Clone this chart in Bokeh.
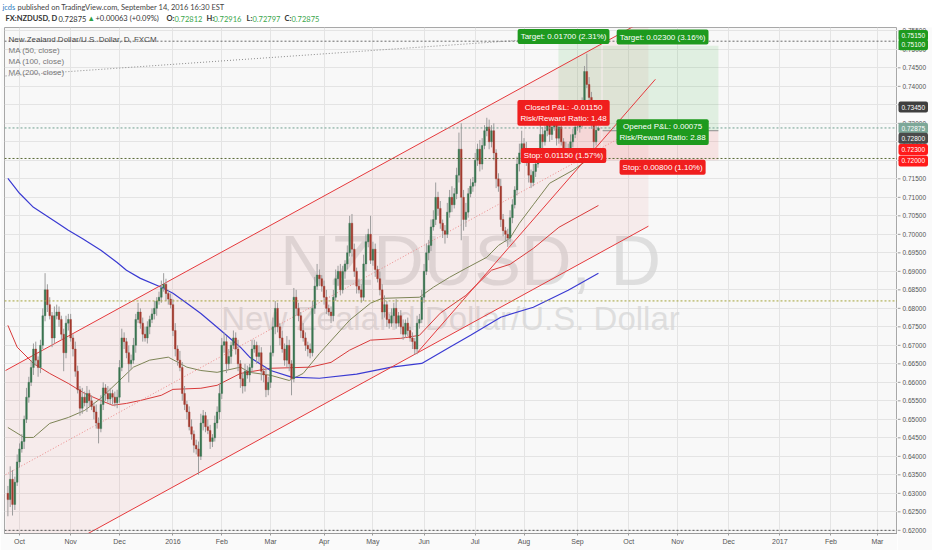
import numpy as np
import pandas as pd
from bokeh.plotting import figure
from bokeh.layouts import column, row
from bokeh.models import (Range1d, FixedTicker, SingleIntervalTicker, Grid,
                          Label, ColumnDataSource, Span)
from bokeh.core.properties import value
from bokeh.embed import file_html
from bokeh.resources import INLINE

# ---------------- data ----------------
FIRST_DAY = "2015-09-24"
AXIS_END_DAY = "2017-03-31"
FIRST_OPEN = 0.6300
LAST_OPEN = 0.72812

CLOSE = [
    0.6283, 0.6338, 0.6270, 0.6330, 0.6385,
    0.6420, 0.6440, 0.6500, 0.6560, 0.6600, 0.6640, 0.6690, 0.6660, 0.6640, 0.6700, 0.6780,
    0.6850, 0.6810, 0.6780, 0.6720, 0.6780, 0.6790, 0.6770, 0.6730, 0.6680, 0.6760, 0.6770,
    0.6720, 0.6690, 0.6630, 0.6580, 0.6530, 0.6560, 0.6545, 0.6570, 0.6550, 0.6535, 0.6520,
    0.6490, 0.6475, 0.6540, 0.6585, 0.6570, 0.6555, 0.6570, 0.6560, 0.6545, 0.6560,
    0.6640, 0.6720, 0.6710, 0.6680, 0.6650, 0.6660, 0.6700, 0.6770, 0.6790, 0.6760, 0.6730,
    0.6720, 0.6750, 0.6770, 0.6785, 0.6800, 0.6820, 0.6830, 0.6855, 0.6865, 0.6840, 0.6825, 0.6810,
    0.6740, 0.6690, 0.6660, 0.6640, 0.6570, 0.6540, 0.6520, 0.6480, 0.6460, 0.6430, 0.6420,
    0.6400, 0.6490, 0.6510, 0.6480, 0.6470, 0.6440, 0.6450, 0.6490, 0.6520, 0.6570,
    0.6700, 0.6710, 0.6650, 0.6670, 0.6700, 0.6720, 0.6690, 0.6650, 0.6610, 0.6590, 0.6630,
    0.6620, 0.6640, 0.6690, 0.6700, 0.6670, 0.6680, 0.6630, 0.6620, 0.6580, 0.6600,
    0.6680, 0.6750, 0.6800, 0.6750, 0.6720, 0.6690, 0.6660, 0.6700, 0.6650, 0.6610, 0.6830,
    0.6800, 0.6780, 0.6740, 0.6720, 0.6700, 0.6690, 0.6680, 0.6800, 0.6860, 0.6890, 0.6880, 0.6860,
    0.6830, 0.6800, 0.6790, 0.6780, 0.6830, 0.6880, 0.6900, 0.6850, 0.6900, 0.6920, 0.6950,
    0.7030, 0.6960, 0.6900, 0.6860, 0.6850, 0.6830, 0.6920, 0.6980, 0.7000, 0.6930,
    0.6960, 0.6905, 0.6880, 0.6850, 0.6790, 0.6810, 0.6770, 0.6760, 0.6780, 0.6800, 0.6760,
    0.6780, 0.6750, 0.6730, 0.6760, 0.6740, 0.6720, 0.6710, 0.6690, 0.6760, 0.6770, 0.6830,
    0.6900, 0.6950, 0.6970, 0.7020, 0.7040, 0.7100, 0.7070, 0.7030, 0.7010, 0.7000, 0.7060,
    0.7100, 0.7080, 0.7110, 0.7160, 0.7230, 0.7100, 0.7040, 0.7060, 0.7110, 0.7130, 0.7140,
    0.7200, 0.7230, 0.7190, 0.7240, 0.7280, 0.7290, 0.7250, 0.7280, 0.7220, 0.7150, 0.7130,
    0.7040, 0.7010, 0.7000, 0.6990, 0.7045, 0.7080, 0.7120, 0.7190, 0.7220, 0.7245,
    0.7230, 0.7200, 0.7160, 0.7140, 0.7170, 0.7190, 0.7210, 0.7270, 0.7250, 0.7280, 0.7300,
    0.7270, 0.7290, 0.7310, 0.7260, 0.7290, 0.7250, 0.7220, 0.7230, 0.7210, 0.7250, 0.7270, 0.7290,
    0.7290, 0.7300, 0.7345, 0.7440, 0.7405, 0.7370, 0.7300, 0.7250, 0.7281, 0.72875,
]
WICK_UP_PIPS = [
    20, 35, 25, 15, 20,
    15, 20, 10, 25, 15, 20, 15, 20, 10, 15, 20, 45, 15, 20, 10, 25, 20, 15, 10, 15, 20, 15,
    15, 10, 20, 15, 10, 25, 15, 20, 10, 15, 10, 20, 15, 25, 15, 10, 20, 15, 10, 15, 20,
    20, 25, 15, 10, 20, 15, 20, 15, 25, 10, 15, 20, 15, 10, 15, 20, 10, 15, 20, 30, 15, 10, 15,
    15, 20, 10, 25, 15, 20, 10, 15, 20, 10, 15, 20, 25, 15, 10, 20, 15, 10, 20, 15, 25,
    20, 25, 15, 20, 10, 20, 15, 25, 10, 15, 20, 15, 10, 25, 15, 10, 20, 15, 10, 20, 15,
    20, 25, 20, 15, 10, 20, 15, 25, 15, 10, 25, 20, 15, 10, 20, 15, 10, 15, 20, 25, 30, 15, 10,
    15, 20, 10, 15, 20, 25, 15, 20, 15, 10, 20, 20, 25, 15, 10, 20, 15, 25, 20, 15, 50,
    20, 15, 10, 20, 15, 25, 10, 15, 20, 15, 25, 10, 15, 20, 10, 15, 10, 15, 10, 20, 15, 20,
    20, 25, 15, 20, 25, 40, 15, 20, 10, 15, 25, 20, 30, 15, 20, 45, 70, 20, 25, 15, 20, 15,
    20, 15, 25, 20, 15, 25, 20, 15, 20, 10, 15, 20, 15, 10, 15, 20, 15, 10, 20, 25, 35,
    15, 20, 10, 15, 20, 10, 15, 35, 20, 15, 25, 30, 15, 20, 35, 20, 15, 10, 20, 15, 20, 15, 20,
    15, 20, 25, 15, 48, 20, 15, 20, 15, 4,
]
WICK_DN_PIPS = [
    45, 20, 30, 15, 10,
    15, 10, 20, 10, 15, 10, 20, 15, 25, 15, 10, 15, 20, 10, 25, 15, 10, 20, 15, 50, 15, 20,
    10, 20, 15, 10, 20, 15, 10, 25, 15, 10, 20, 15, 40, 10, 15, 20, 10, 15, 20, 10, 15,
    15, 10, 20, 15, 50, 15, 10, 20, 10, 15, 20, 10, 15, 20, 10, 15, 20, 10, 15, 10, 20, 15, 10,
    15, 20, 15, 10, 20, 15, 20, 10, 15, 20, 15, 50, 10, 20, 15, 10, 20, 15, 10, 15, 20,
    15, 20, 25, 15, 20, 10, 15, 20, 25, 20, 15, 10, 20, 15, 10, 20, 15, 25, 20, 20, 15,
    15, 10, 20, 15, 20, 10, 15, 20, 20, 45, 10, 20, 15, 20, 10, 15, 20, 15, 10, 15, 10, 20, 15,
    20, 15, 10, 20, 15, 10, 20, 15, 10, 20, 15, 10, 20, 15, 20, 10, 15, 10, 20, 15, 10,
    15, 20, 10, 15, 20, 15, 20, 15, 10, 20, 15, 10, 20, 15, 10, 15, 10, 20, 15, 14, 15, 10,
    15, 10, 20, 15, 10, 15, 20, 15, 20, 25, 10, 15, 20, 10, 15, 20, 116, 30, 20, 15, 10, 15,
    10, 15, 20, 15, 10, 15, 20, 15, 20, 25, 15, 20, 15, 20, 24, 10, 15, 10, 15, 20, 10,
    20, 15, 20, 15, 10, 15, 10, 15, 20, 10, 15, 20, 15, 10, 20, 15, 10, 15, 20, 15, 10, 15, 10,
    10, 15, 10, 15, 10, 20, 15, 22, 10, 2,
]

TICK_LABELS = ["Oct", "Nov", "Dec", "2016", "Feb", "Mar", "Apr", "May", "Jun", "Jul",
               "Aug", "Sep", "Oct", "Nov", "Dec", "2017", "Feb", "Mar"]
PRICE_TICK_FIRST, PRICE_TICK_LAST, PRICE_TICK_STEP = 0.620, 0.755, 0.005

# moving averages (bar index, price)
MA50_X = [0, 7, 11, 18, 26, 33, 40, 48, 54, 61, 69, 77, 83, 90, 100, 104, 113, 121, 127, 134,
          147, 156, 161, 177, 183, 190, 197, 206, 211, 216, 220, 226, 233, 243, 254]
MA50_Y = [0.6478, 0.6451, 0.6451, 0.6489, 0.6505, 0.6524, 0.6557, 0.6605, 0.6641, 0.6660,
          0.6668, 0.6641, 0.6632, 0.6627, 0.6641, 0.6627, 0.6619, 0.6605, 0.6624, 0.6678,
          0.6768, 0.6814, 0.6827, 0.6830, 0.6857, 0.6884, 0.6908, 0.6938, 0.6970, 0.6990,
          0.7030, 0.7080, 0.7138, 0.7173, 0.7222]
MA100_X = [0, 4, 11, 18, 26, 33, 40, 45, 51, 57, 66, 71, 83, 90, 100, 113, 130, 139, 147, 156,
           169, 177, 186, 197, 208, 216, 226, 237, 254]
MA100_Y = [0.6754, 0.6695, 0.6651, 0.6624, 0.6597, 0.6570, 0.6551, 0.6538, 0.6543, 0.6551,
           0.6565, 0.6581, 0.6584, 0.6592, 0.6624, 0.6638, 0.6641, 0.6654, 0.6687, 0.6714,
           0.6719, 0.6727, 0.6787, 0.6835, 0.6903, 0.6919, 0.6962, 0.7019, 0.7078]
MA200_X = [0, 5, 11, 21, 26, 32, 40, 47, 51, 57, 66, 71, 77, 83, 90, 95, 100, 104, 113, 122,
           134, 150, 165, 178, 190, 199, 212, 226, 241, 254]
MA200_Y = [0.7151, 0.7111, 0.7073, 0.7032, 0.7011, 0.6989, 0.6957, 0.6924, 0.6903, 0.6881,
           0.6857, 0.6841, 0.6814, 0.6786, 0.6749, 0.6722, 0.6695, 0.6668, 0.6632, 0.6614,
           0.6611, 0.6622, 0.6641, 0.6651, 0.6695, 0.6727, 0.6776, 0.6803, 0.6849, 0.6895]

# drawings
CHANNEL_X = [-1.0, 275.5]
CHANNEL_UP = [0.6632, 0.7584]
CHANNEL_LO = [0.6069, 0.7022]
TREND_X = [176.2, 278.5]
TREND_Y = [0.6681, 0.7419]
GRAY_X = [-1.0, 244.0]
GRAY_Y = [0.7428, 0.7535]
HLINE_Y = [0.7522, 0.72875, 0.7205, 0.6820, 0.6200]
HLINE_COLOR = ["#6a6a6a", "#6f9f8f", "#5a6a36", "#a3a33a", "#555555"]

# long position tools: [x start, x end], [entry, stop, target]
POS1_X = [236.8, 255.3]
POS1_LEVELS = [0.7345, 0.7230, 0.7515]
POS2_X = [255.8, 305.6]
POS2_LEVELS = [0.7280, 0.7200, 0.7510]
POS_LABEL_X = [239.0, 281.6]
POS1_TEXT = ["Target: 0.01700 (2.31%)", "Closed P&L: -0.01150\nRisk/Reward Ratio: 1.48",
             "Stop: 0.01150 (1.57%)"]
POS2_TEXT = ["Target: 0.02300 (3.16%)", "Opened P&L: 0.00075\nRisk/Reward Ratio: 2.88",
             "Stop: 0.00800 (1.10%)"]
POS1_TEXT_Y = [0.7535, 0.7328, 0.7213]
POS2_TEXT_Y = [0.7533, 0.7276, 0.7181]
POS1_TEXT_COLOR = ["#1e9a1e", "#f01e1e", "#f01e1e"]
POS2_TEXT_COLOR = ["#1e9a1e", "#1e9a1e", "#f01e1e"]

AXIS_TAGS = ["0.75150", "0.75100", "0.73450", "0.72875", "0.72800", "0.72300", "0.72000"]
AXIS_TAG_Y = [0.75372, 0.75127, 0.73439, 0.72867, 0.72594, 0.72295, 0.71982]
AXIS_TAG_COLOR = ["#1e9a1e", "#1e9a1e", "#3f3f3f", "#7da898", "#4a4a4a", "#ff1a1a", "#ff1a1a"]

# ---------------- layout (page pixels) ----------------
PAGE_W, HEADER_H, MAIN_H = 932, 27, 523
AXIS_W = 35
MAIN_W = PAGE_W - AXIS_W
FRAME_L, BOTTOM = 4, 17
X0, X1 = (FRAME_L - 7.375) / 2.325, (MAIN_W - 7.375) / 2.325
Y1 = 0.7559
Y0 = Y1 - (MAIN_H - BOTTOM) / 3700.0


def sx(px):
    return (px - 7.375) / 2.325


def sy(py):
    return 0.74 - (py - 86) / 3700.0


UP, DOWN, WICK = "#3a7550", "#a23a2e", "#9c9c9c"
FONT = "Liberation Sans"

n = min(len(CLOSE), len(WICK_UP_PIPS), len(WICK_DN_PIPS))
close = np.array(CLOSE[:n], dtype=float)
open_ = np.concatenate([[FIRST_OPEN], close[:-1]])
open_[-1] = LAST_OPEN
top = np.maximum(open_, close)
bot = np.minimum(open_, close)
hi = top + np.array(WICK_UP_PIPS[:n]) * 1e-4
lo = bot - np.array(WICK_DN_PIPS[:n]) * 1e-4
xs = np.arange(n)
colors = np.where(close >= open_, UP, DOWN)
src = ColumnDataSource(dict(x=xs, top=top, bot=bot, hi=hi, lo=lo, color=colors))

days = pd.bdate_range(FIRST_DAY, AXIS_END_DAY)
months = days.to_period("M")
starts = [i for i in range(1, len(days)) if months[i] != months[i - 1]]
ticks = [int(t) for t in starts[:len(TICK_LABELS)]]

yr = Range1d(Y0, Y1)

# ---------------- main pane ----------------
p = figure(width=MAIN_W, height=MAIN_H, x_range=Range1d(X0, X1), y_range=yr,
           y_axis_type=None, toolbar_location=None, output_backend="svg",
           min_border_left=FRAME_L, min_border_right=0, min_border_top=0,
           min_border_bottom=BOTTOM, background_fill_color="#f8f8f8",
           border_fill_color="#fafafa", outline_line_color="#a8a8a8")

p.xaxis.ticker = FixedTicker(ticks=ticks)
p.xaxis.major_label_overrides = {t: lab for t, lab in zip(ticks, TICK_LABELS)}
xa = p.xaxis[0]
xa.major_label_text_font = FONT
xa.major_label_text_font_size = "7px"
xa.major_label_text_color = "#555555"
xa.axis_line_color = "#9a9a9a"
xa.major_tick_line_color = "#9a9a9a"
xa.major_tick_out = 2
xa.major_tick_in = 0
xa.minor_tick_line_color = None
xa.major_label_standoff = 2
p.xgrid.ticker = FixedTicker(ticks=ticks)
p.xgrid.grid_line_color = "#e4e4e4"
p.add_layout(Grid(dimension=1, ticker=SingleIntervalTicker(interval=PRICE_TICK_STEP,
                                                           num_minor_ticks=0),
                  grid_line_color="#e4e4e4"))

# watermark
p.text(x=[sx(470)], y=[sy(261)], text=["NZDUSD, D"], text_font=value(FONT),
       text_font_size=value("70px"), text_color="#d6d6d6", text_alpha=0.75,
       text_align="center", text_baseline="middle")
p.text(x=[sx(450)], y=[sy(318)], text=["New Zealand Dollar/U.S. Dollar"],
       text_font=value(FONT), text_font_size=value("33px"),
       text_color="#d6d6d6", text_alpha=0.75, text_align="center", text_baseline="middle")

# channel
p.patch(x=[CHANNEL_X[0], CHANNEL_X[1], CHANNEL_X[1], CHANNEL_X[0]],
        y=[CHANNEL_UP[0], CHANNEL_UP[1], CHANNEL_LO[1], CHANNEL_LO[0]],
        fill_color="#e05a5a", fill_alpha=0.08, line_alpha=0)

# position boxes
for (xa0, xb0), (entry, stop, target) in ((POS1_X, POS1_LEVELS), (POS2_X, POS2_LEVELS)):
    p.quad(left=[xa0], right=[xb0], bottom=[entry], top=[target],
           fill_color="#3fae49", fill_alpha=0.13, line_alpha=0)
    p.quad(left=[xa0], right=[xb0], bottom=[stop], top=[entry],
           fill_color="#f04a4a", fill_alpha=0.12, line_alpha=0)
p.line(x=POS2_X, y=[POS2_LEVELS[0], POS2_LEVELS[0]], line_color="#8c8c8c", line_width=1)

# moving averages
p.line(x=MA50_X, y=MA50_Y, line_color="#7d8456", line_width=1)
p.line(x=MA100_X, y=MA100_Y, line_color="#d83a3a", line_width=1)
p.line(x=MA200_X, y=MA200_Y, line_color="#3a3ad2", line_width=1.2)

# channel lines + trend line
p.line(x=CHANNEL_X, y=CHANNEL_UP, line_color="#e5393c", line_width=1)
p.line(x=CHANNEL_X, y=CHANNEL_LO, line_color="#e5393c", line_width=1)
p.line(x=CHANNEL_X, y=[(a + b) / 2 for a, b in zip(CHANNEL_UP, CHANNEL_LO)],
       line_color="#ec8a8a", line_width=1, line_dash="1 2")
p.line(x=TREND_X, y=TREND_Y, line_color="#e5393c", line_width=1)
p.line(x=GRAY_X, y=GRAY_Y, line_color="#8a8a8a", line_width=1, line_dash="1 2")

# candles
p.segment(x0="x", y0="hi", x1="x", y1="lo", line_color=WICK, line_width=1, source=src)
p.vbar(x="x", width=0.72, top="top", bottom="bot", fill_color="color", line_color="color",
       line_width=0.4, source=src)

# horizontal dotted lines
for yv, c in zip(HLINE_Y, HLINE_COLOR):
    p.add_layout(Span(location=yv, dimension="width", line_color=c, line_width=1,
                      line_dash="2 2"))


def add_label(fig, x, y, text, color="#444444", size="8px", bold=False, align="left",
              font=FONT, bg=None, pad=0):
    kw = {}
    if bg is not None:
        kw = dict(background_fill_color=bg, border_radius=2, padding=pad)
    fig.add_layout(Label(x=x, y=y, text=text, text_color=color, text_font=font,
                         text_font_size=size, text_font_style="bold" if bold else "normal",
                         text_align=align, text_baseline="middle", **kw))


# position tool labels
for lx, texts, ys, cols in ((POS_LABEL_X[0], POS1_TEXT, POS1_TEXT_Y, POS1_TEXT_COLOR),
                            (POS_LABEL_X[1], POS2_TEXT, POS2_TEXT_Y, POS2_TEXT_COLOR)):
    for t, yv, c in zip(texts, ys, cols):
        add_label(p, lx, yv, t, color="#ffffff", size="8px", align="center", bg=c, pad=3)

# legend inside the pane
add_label(p, sx(8), sy(39), "New Zealand Dollar/U.S. Dollar, D, FXCM", color="#4a4a4a",
          size="8px")
for i, t in enumerate(["MA (50, close)", "MA (100, close)", "MA (200, close)"]):
    add_label(p, sx(8), sy(50 + 11 * i), t, color="#777777", size="8px")

# ---------------- price scale ----------------
ax = figure(width=AXIS_W, height=MAIN_H, x_range=Range1d(0, AXIS_W), y_range=yr,
            x_axis_type=None, y_axis_type=None, toolbar_location=None, output_backend="svg",
            min_border_left=0, min_border_right=0, min_border_top=0, min_border_bottom=BOTTOM,
            background_fill_color="#fafafa", border_fill_color="#fafafa",
            outline_line_color=None)
price_ticks = np.round(np.arange(PRICE_TICK_FIRST, PRICE_TICK_LAST + 1e-9, PRICE_TICK_STEP), 3)
ax.segment(x0=0, x1=3, y0=price_ticks, y1=price_ticks, line_color="#9a9a9a", line_width=1)
ax.text(x=5, y=price_ticks, text=["%.5f" % v for v in price_ticks], text_font=value(FONT),
        text_font_size=value("6.5px"), text_color="#555555", text_baseline="middle",
        text_align="left")
for t, yv, c in zip(AXIS_TAGS, AXIS_TAG_Y, AXIS_TAG_COLOR):
    add_label(ax, 1, yv, t, color="#ffffff", size="6.5px", align="left", bg=c, pad=3)

# ---------------- header ----------------
hd = figure(width=PAGE_W, height=HEADER_H, x_range=Range1d(0, PAGE_W),
            y_range=Range1d(HEADER_H, 0), x_axis_type=None, y_axis_type=None,
            toolbar_location=None, output_backend="svg", min_border=0,
            background_fill_color="#ffffff", border_fill_color="#ffffff",
            outline_line_color=None)
hd.grid.visible = False
add_label(hd, 2, 7, "jcds", color="#2f7bbf", size="7.5px", font="Lato")
add_label(hd, 17, 7, "published on TradingView.com, September 14, 2016 16:30 EST",
          color="#444444", size="7.5px", font="Lato")
HEADER2 = [("FX:NZDUSD, D", 5, "#333333", True), ("0.72875", 58, "#333333", False),
           ("\u25b2", 87, "#2ea043", False), ("+0.00063 (+0.09%)", 95, "#333333", False),
           ("O:", 166, "#333333", True), ("0.72812", 174, "#3aa54a", False),
           ("H:", 206, "#333333", True), ("0.72916", 213, "#3aa54a", False),
           ("L:", 246, "#333333", True), ("0.72797", 252, "#3aa54a", False),
           ("C:", 284, "#333333", True), ("0.72875", 291, "#3aa54a", False)]
for t, px, c, b in HEADER2:
    add_label(hd, px, 18, t, color=c, size="7.5px", bold=b, font="Lato")

layout = column(hd, row(p, ax, spacing=0), spacing=0)
open("out.html", "w").write(file_html(layout, INLINE))
